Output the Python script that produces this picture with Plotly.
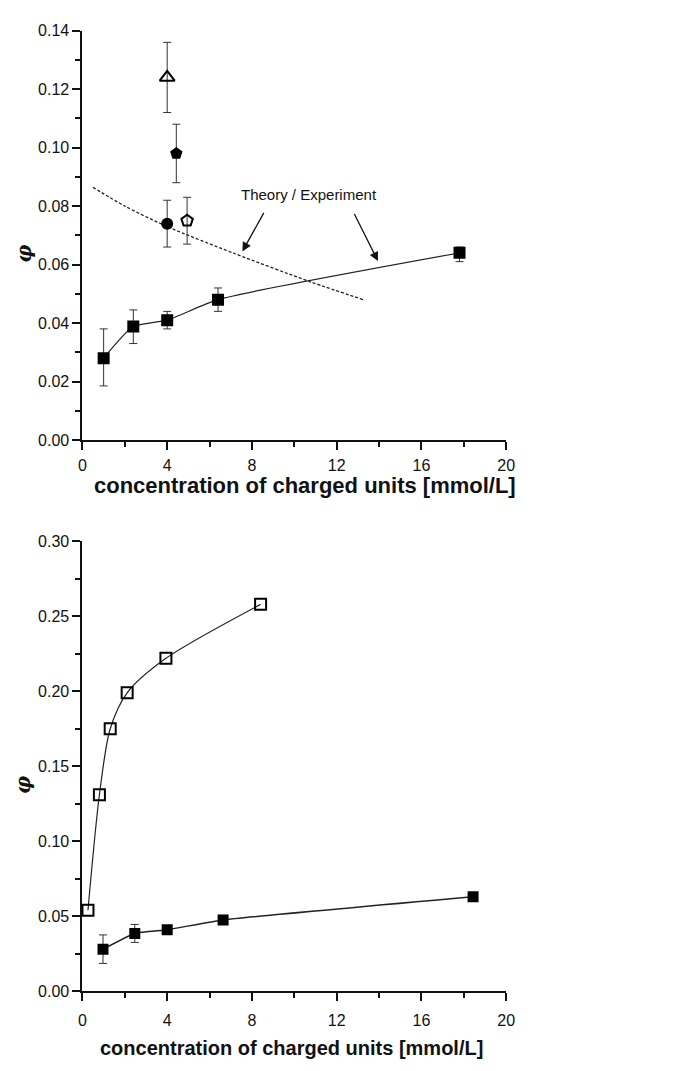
import plotly.graph_objects as go

W, H = 674, 1071

# ---- top panel data ----
exp_x = [1.0, 2.4, 4.0, 6.4, 17.8]
exp_y = [0.028, 0.0388, 0.041, 0.048, 0.064]
exp_err_plus = [0.010, 0.0057, 0.003, 0.004, 0.002]
exp_err_minus = [0.0095, 0.0058, 0.003, 0.004, 0.003]

theory_x = [0.5, 2.0, 4.0, 7.1, 10.8, 13.3]
theory_y = [0.0864, 0.080, 0.073, 0.064, 0.054, 0.0479]

tri_x, tri_y, tri_err = [4.0], [0.124], [0.012]
pent_x, pent_y, pent_err = [4.43], [0.098], [0.010]
circ_x, circ_y, circ_err = [4.0], [0.074], [0.008]
opent_x, opent_y, opent_err = [4.94], [0.075], [0.008]

# ---- bottom panel data ----
open_x = [0.26, 0.80, 1.31, 2.11, 3.94, 8.41]
open_y = [0.054, 0.131, 0.175, 0.199, 0.222, 0.258]

fill_x = [0.97, 2.47, 4.0, 6.64, 18.44]
fill_y = [0.028, 0.0385, 0.041, 0.0475, 0.063]
fill_err = [0.0095, 0.006, 0.002, 0.003, 0.002]

x_ticks = [0, 4, 8, 12, 16, 20]
x_title = "concentration of charged units [mmol/L]"
y_title = "φ"
note_text = "Theory / Experiment"

FONT = "Liberation Sans, Arial, sans-serif"
INK = "#111111"


def errbar(vals, minus=None):
    d = dict(type="data", array=vals, color="#333333", thickness=1, width=4, visible=True)
    if minus is not None:
        d["symmetric"] = False
        d["arrayminus"] = minus
    return d


fig = go.Figure()

# top panel
fig.add_trace(go.Scatter(x=theory_x, y=theory_y, mode="lines",
                         line=dict(color="#222222", width=1.3, dash="3px,2px", shape="spline", smoothing=0.8),
                         xaxis="x", yaxis="y", showlegend=False))
fig.add_trace(go.Scatter(x=exp_x, y=exp_y, mode="lines+markers",
                         line=dict(color="#222222", width=1.2, shape="spline", smoothing=0.55),
                         marker=dict(symbol="square", size=12, color="black"),
                         error_y=errbar(exp_err_plus, exp_err_minus), xaxis="x", yaxis="y", showlegend=False))
fig.add_trace(go.Scatter(x=tri_x, y=tri_y, mode="markers",
                         marker=dict(symbol="triangle-up-open", size=13, color="black", line=dict(width=2, color="black")),
                         error_y=errbar(tri_err), xaxis="x", yaxis="y", showlegend=False))
fig.add_trace(go.Scatter(x=pent_x, y=pent_y, mode="markers",
                         marker=dict(symbol="pentagon", size=13, color="black"),
                         error_y=errbar(pent_err), xaxis="x", yaxis="y", showlegend=False))
fig.add_trace(go.Scatter(x=circ_x, y=circ_y, mode="markers",
                         marker=dict(symbol="circle", size=12, color="black"),
                         error_y=errbar(circ_err), xaxis="x", yaxis="y", showlegend=False))
fig.add_trace(go.Scatter(x=opent_x, y=opent_y, mode="markers",
                         marker=dict(symbol="pentagon-open", size=12, color="black", line=dict(width=2, color="black")),
                         error_y=errbar(opent_err), xaxis="x", yaxis="y", showlegend=False))

# bottom panel
fig.add_trace(go.Scatter(x=open_x, y=open_y, mode="lines+markers",
                         line=dict(color="#222222", width=1.2, shape="spline", smoothing=0.8),
                         marker=dict(symbol="square-open", size=11, color="black", line=dict(width=2, color="black")),
                         xaxis="x2", yaxis="y2", showlegend=False, cliponaxis=False))
fig.add_trace(go.Scatter(x=fill_x, y=fill_y, mode="lines+markers",
                         line=dict(color="#222222", width=1.5, shape="spline", smoothing=0.4),
                         marker=dict(symbol="square", size=11, color="black"),
                         error_y=errbar(fill_err), xaxis="x2", yaxis="y2", showlegend=False))

xdom = [80 / W, 512 / W]
ydom_top = [(H - 439) / H, (H - 23) / H]
ydom_bot = [(H - 999) / H, (H - 542) / H]


def xax(anchor, standoff):
    return dict(domain=xdom, range=[0, 20], anchor=anchor, tickvals=x_ticks, ticks="outside", ticklen=8, tickwidth=1.5,
                tickcolor=INK, showline=True, linewidth=2, linecolor=INK, showgrid=False, zeroline=False,
                tickfont=dict(family=FONT, size=16, color=INK), ticklabelstandoff=standoff,
                minor=dict(tickvals=[2, 6, 10, 14, 18], ticks="outside", ticklen=5, tickwidth=1.5, tickcolor=INK))


def yax(anchor, dom, rng, dtick, minor):
    return dict(domain=dom, range=rng, anchor=anchor, dtick=dtick, tick0=0, tickformat=".2f", ticks="outside", ticklen=8,
                tickwidth=1.5, tickcolor=INK, showline=True, linewidth=2, linecolor=INK, showgrid=False, zeroline=False,
                tickfont=dict(family=FONT, size=16, color=INK),
                minor=dict(dtick=minor, tick0=0, ticks="outside", ticklen=5, tickwidth=1.5, tickcolor=INK))


def px_y(py):
    return (H - py) / H


ann = []
# x titles (top wider than bottom in the reference)
for xc, yc, fs in ((307, 485, 22), (293, 1057, 20)):
    ann.append(dict(text="<b>" + x_title + "</b>", x=xc / W, y=px_y(yc), xref="paper", yref="paper",
                    xanchor="center", yanchor="middle", showarrow=False,
                    font=dict(family=FONT, size=fs, color=INK)))
# y titles
for yc in (250, 790):
    ann.append(dict(text="<b><i>" + y_title + "</i></b>", x=20 / W, y=px_y(yc), xref="paper", yref="paper",
                    xanchor="center", yanchor="middle", showarrow=False, textangle=-90,
                    font=dict(family="DejaVu Serif, serif", size=20, color=INK)))
ann += [
    dict(text=note_text, x=10.7, y=0.0841, xref="x", yref="y", showarrow=False,
         font=dict(family=FONT, size=15, color=INK)),
    dict(text="", x=7.55, y=0.0645, ax=8.6, ay=0.0782, xref="x", yref="y", axref="x", ayref="y",
         showarrow=True, arrowhead=2, arrowsize=1.4, arrowwidth=1.3, arrowcolor=INK),
    dict(text="", x=13.95, y=0.0612, ax=12.8, ay=0.0778, xref="x", yref="y", axref="x", ayref="y",
         showarrow=True, arrowhead=2, arrowsize=1.4, arrowwidth=1.3, arrowcolor=INK),
]

fig.update_layout(
    width=W, height=H, margin=dict(l=0, r=0, t=0, b=0),
    paper_bgcolor="white", plot_bgcolor="white",
    xaxis=xax("y", 2), yaxis=yax("x", ydom_top, [0, 0.14], 0.02, 0.01),
    xaxis2=xax("y2", 6), yaxis2=yax("x2", ydom_bot, [0, 0.30], 0.05, 0.025),
    annotations=ann,
)

fig.write_html("out.html")
